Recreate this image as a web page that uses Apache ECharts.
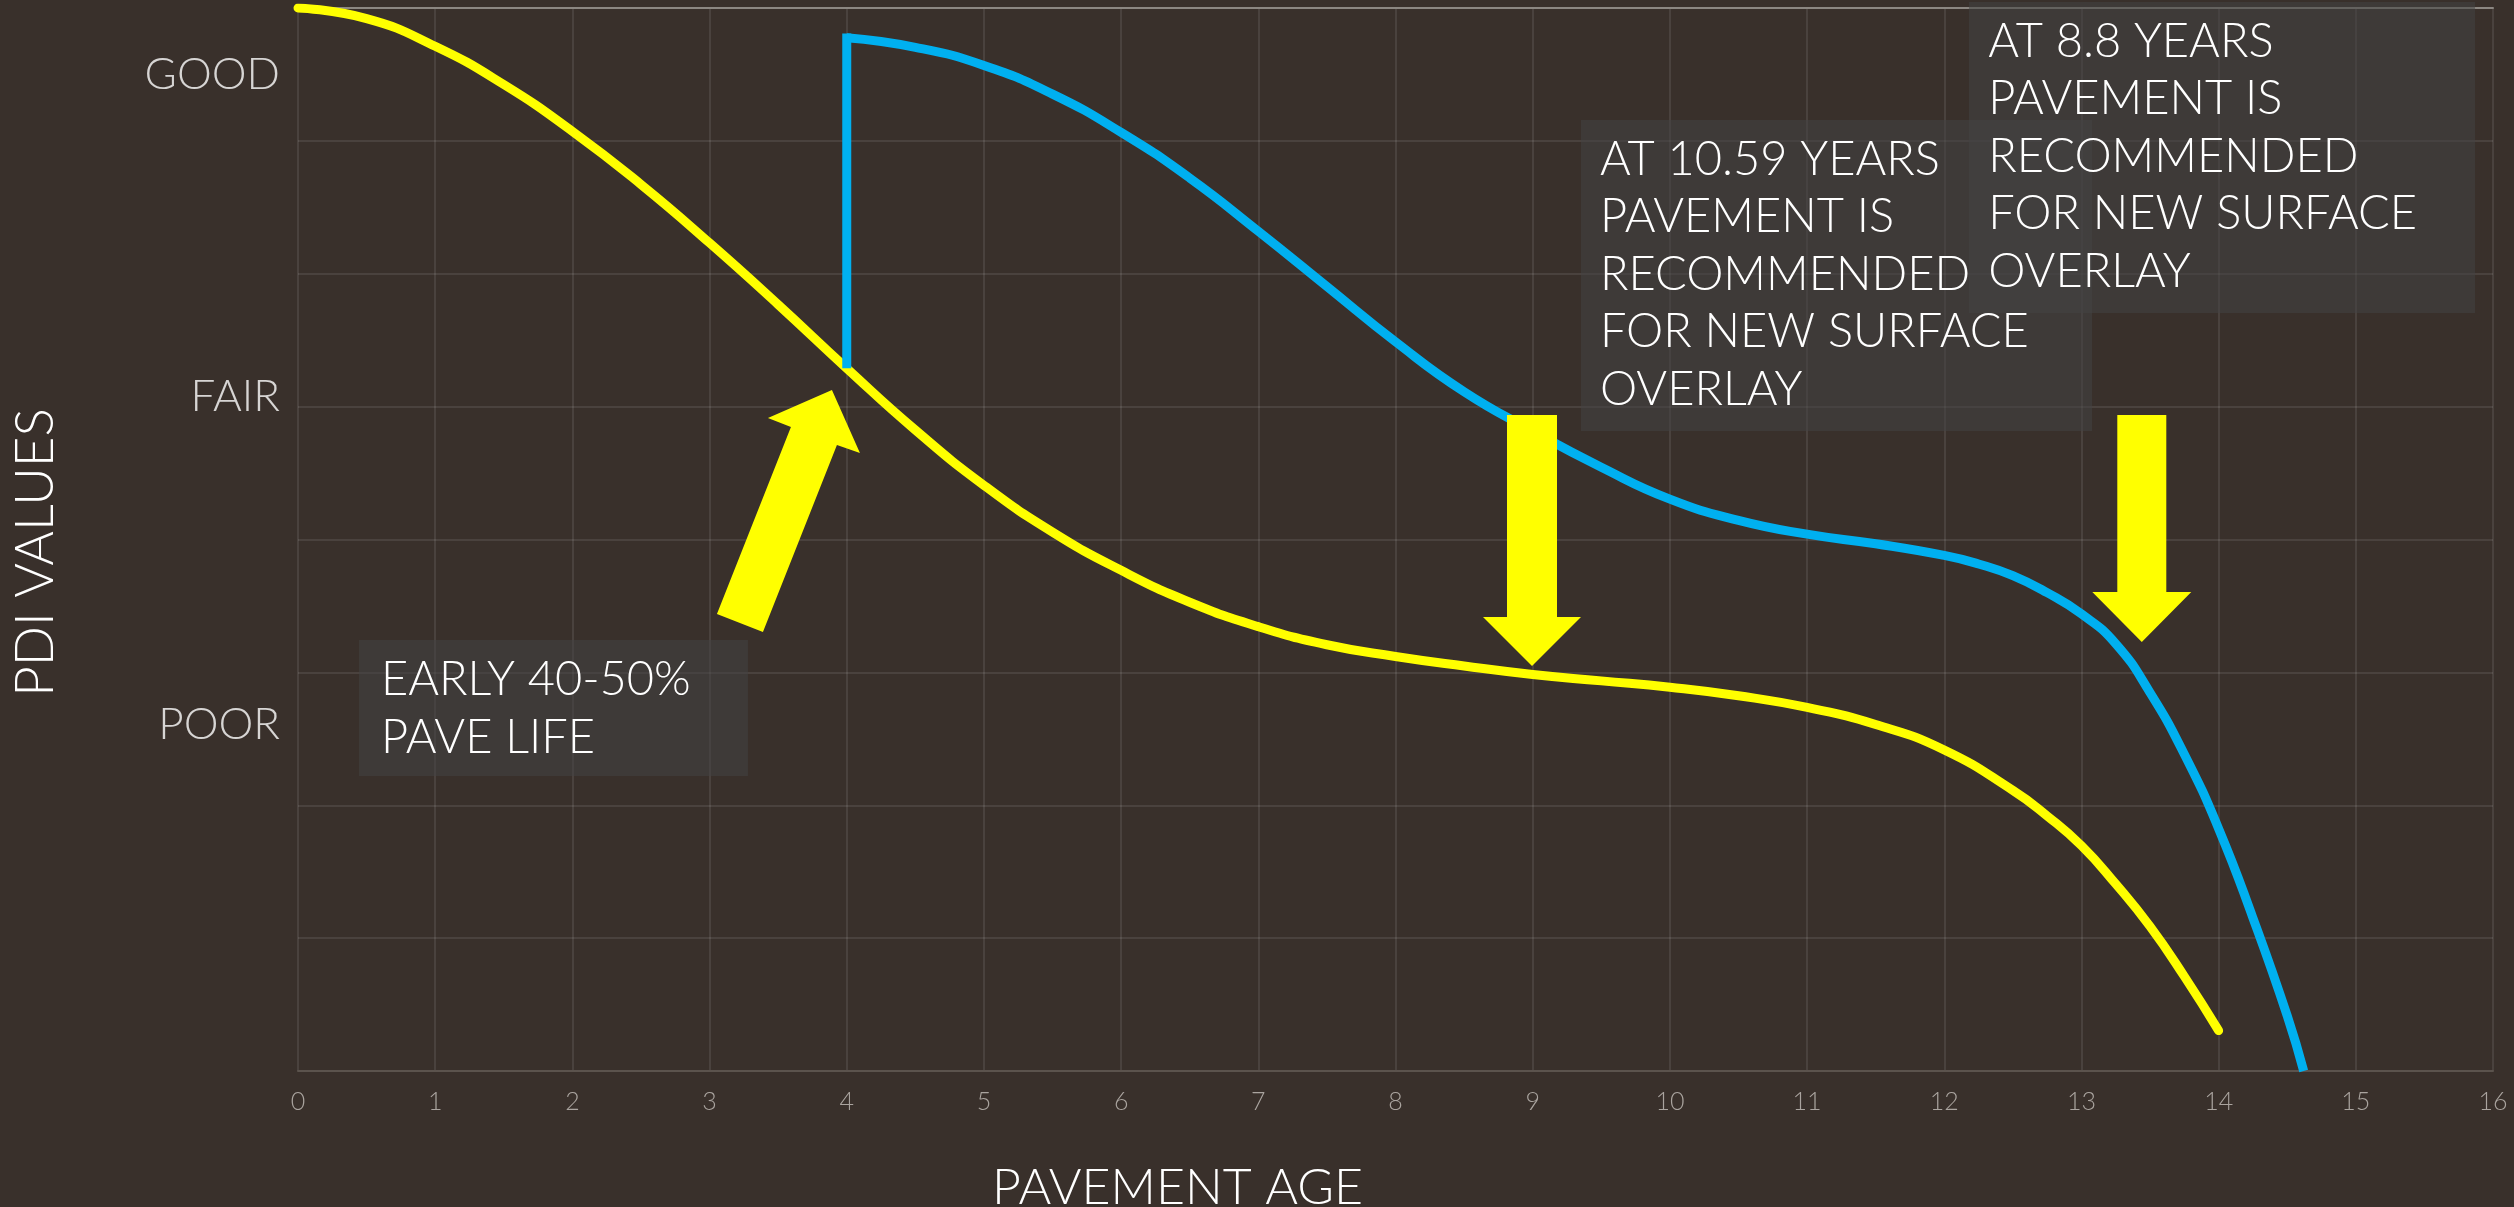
<!DOCTYPE html>
<html>
<head>
<meta charset="utf-8">
<title>Pavement deterioration curve</title>
<script src="https://cdn.jsdelivr.net/npm/echarts@6/dist/echarts.min.js"></script>
<style>
  html, body { margin: 0; padding: 0; background: #39302b; }
  #chart { width: 2514px; height: 1207px; }
</style>
</head>
<body>
<div id="chart"></div>
<script>
// Condition bands named on the PDI scale
const conditionNames = ['GOOD', 'FAIR', 'POOR'];
const conditionLevels = [93.7, 63.4, 32.6];

// Original pavement: PDI by pavement age (years)
const originalAge = [0, 0.5, 1, 1.5, 2, 2.5, 3, 3.5, 4, 4.5, 5, 5.5, 6, 6.5, 7, 7.5, 8, 8.5, 9, 9.5, 10, 10.5, 11, 11.5, 12, 12.5, 12.75, 13, 13.25, 13.5, 13.75, 14];
const originalPdi = [100, 99.0, 96.4, 92.8, 88.4, 83.4, 77.9, 72.1, 66.1, 60.3, 55.1, 50.7, 47.1, 44.1, 41.8, 40.1, 39.0, 38.1, 37.3, 36.7, 36.1, 35.3, 34.2, 32.6, 30.2, 26.4, 24.0, 21.2, 17.6, 13.6, 8.9, 3.8];

// After an early treatment at year 4: PDI by pavement age (years)
const treatmentAge = 4;
const treatedAge = [4, 4.5, 5, 5.5, 6, 6.5, 7, 7.5, 8, 8.5, 9, 9.5, 10, 10.5, 11, 11.5, 12, 12.25, 12.5, 12.75, 13, 13.25, 13.5, 13.75, 14, 14.25, 14.5, 14.62];
const treatedPdi = [97.2, 96.3, 94.6, 91.9, 88.3, 84.0, 79.0, 73.8, 68.6, 63.9, 60.2, 56.8, 53.8, 51.8, 50.5, 49.6, 48.5, 47.7, 46.6, 45.0, 43.0, 40.2, 35.6, 29.8, 22.8, 14.4, 5.2, 0];

const ageTicks = [0, 16, 1];   // min, max, step of the age axis
const pdiTicks = [0, 100, 12.5];

const zip = (xs, ys) => xs.map((x, i) => [x, ys[i]]);
const pdiBeforeTreatment = originalPdi[originalAge.indexOf(treatmentAge)];

const FONT = 'Lato, "DejaVu Sans", sans-serif';
const YELLOW = '#ffff00';
const BLUE = '#00b0f0';
const GRID_LINE = 'rgba(255,255,255,0.09)';

const chart = echarts.init(document.getElementById('chart'));

chart.setOption({
  backgroundColor: '#39302b',
  animation: false,
  textStyle: { fontFamily: FONT },
  grid: { left: 298, right: 21, top: 8, bottom: 136, outerBoundsMode: 'none' },
  xAxis: [{
    type: 'value',
    min: ageTicks[0], max: ageTicks[1], interval: ageTicks[2],
    name: 'PAVEMENT AGE',
    nameLocation: 'middle',
    nameGap: 92,
    nameTextStyle: { color: '#ffffff', fontSize: 50, fontWeight: 300, fontFamily: FONT, padding: [0, 436, 0, 0] },
    axisLine: { show: true, lineStyle: { color: '#5b534d', width: 2 } },
    axisTick: { show: false },
    axisLabel: { color: '#aaa49f', fontSize: 25, fontWeight: 300, fontFamily: FONT, margin: 18 },
    splitLine: { show: true, lineStyle: { color: GRID_LINE, width: 2 } }
  }, {
    type: 'value',
    position: 'top',
    min: ageTicks[0], max: ageTicks[1],
    axisLine: { show: true, lineStyle: { color: '#8c8782', width: 2 } },
    axisTick: { show: false },
    axisLabel: { show: false },
    splitLine: { show: false }
  }],
  yAxis: {
    type: 'value',
    min: pdiTicks[0], max: pdiTicks[1], interval: pdiTicks[2],
    name: 'PDI VALUES',
    nameLocation: 'middle',
    nameRotate: 90,
    nameGap: 236,
    nameTextStyle: { color: '#ffffff', fontSize: 53, fontWeight: 300, fontFamily: FONT, padding: [0, 26, 0, 0] },
    axisLine: { show: false },
    axisTick: { show: false },
    axisLabel: { show: false },
    splitLine: { show: true, lineStyle: { color: GRID_LINE, width: 2 } }
  },
  series: [
    {
      name: 'Condition',
      type: 'scatter',
      clip: false,
      symbolSize: 0,
      silent: true,
      data: conditionNames.map((n, i) => ({ name: n, value: [ageTicks[0], conditionLevels[i]] })),
      label: {
        show: true,
        position: 'left',
        distance: 18,
        formatter: p => p.name,
        color: '#ffffff',
        fontSize: 44,
        fontWeight: 300,
        fontFamily: FONT
      }
    },
    {
      name: 'Original pavement',
      type: 'line',
      smooth: 0.5,
      showSymbol: false,
      data: zip(originalAge, originalPdi),
      lineStyle: { color: YELLOW, width: 9, cap: 'round' },
      z: 3
    },
    {
      name: 'Treatment',
      type: 'line',
      showSymbol: false,
      data: [[treatmentAge, pdiBeforeTreatment], [treatmentAge, treatedPdi[0] + 0.4]],
      lineStyle: { color: BLUE, width: 9, cap: 'butt' },
      z: 4
    },
    {
      name: 'Treated pavement',
      type: 'line',
      smooth: 0.5,
      showSymbol: false,
      data: zip(treatedAge, treatedPdi),
      lineStyle: { color: BLUE, width: 9 },
      z: 4
    }
  ]
});

// ---- annotations: callout boxes and block arrows, anchored in axis units ----
const px = (x, v) => chart.convertToPixel({ seriesIndex: 1 }, [x, v]);
const BOX_FILL = 'rgba(68,68,68,0.55)';
const NOTE_FONT = '300 47px ' + FONT;
const NOTE_LINE = 57.5;

function box(x0, v0, x1, v1, z) {
  const a = px(x0, v0), b = px(x1, v1);
  return { type: 'rect', z: z, silent: true,
    shape: { x: a[0], y: a[1], width: b[0] - a[0], height: b[1] - a[1] },
    style: { fill: BOX_FILL } };
}
function note(x, v, text, z) {
  const p = px(x, v);
  return { type: 'text', z: z, silent: true, x: p[0], y: p[1],
    style: { text: text, fill: '#ffffff', font: NOTE_FONT, lineHeight: NOTE_LINE,
      align: 'left', verticalAlign: 'top' } };
}
function downArrow(tipX, tipV, topV, shaftHalf, headHalf, headLen, z) {
  const t = px(tipX, tipV), top = px(tipX, topV)[1];
  const [x, y] = t;
  return { type: 'polygon', z: z, silent: true,
    shape: { points: [
      [x - shaftHalf, top], [x + shaftHalf, top], [x + shaftHalf, y - headLen],
      [x + headHalf, y - headLen], [x, y], [x - headHalf, y - headLen],
      [x - shaftHalf, y - headLen]] },
    style: { fill: YELLOW } };
}
function slantArrow(tipX, tipV, z) {
  const [x, y] = px(tipX, tipV);
  const offs = [[0, 0], [28, 63], [5, 55], [-69, 242], [-115, 224], [-41, 37], [-64, 28]];
  return { type: 'polygon', z: z, silent: true,
    shape: { points: offs.map(o => [x + o[0], y + o[1]]) },
    style: { fill: YELLOW } };
}

chart.setOption({
  graphic: [
    box(0.445, 40.55, 3.28, 27.75, 10),
    note(0.605, 39.5, 'EARLY 40-50%\nPAVE LIFE', 11),
    box(9.352, 89.46, 13.077, 60.21, 12),
    note(9.49, 88.43, 'AT 10.59 YEARS\nPAVEMENT IS\nRECOMMENDED\nFOR NEW SURFACE\nOVERLAY', 13),
    box(12.18, 100.56, 15.869, 71.31, 14),
    note(12.32, 99.53, 'AT 8.8 YEARS\nPAVEMENT IS\nRECOMMENDED\nFOR NEW SURFACE\nOVERLAY', 15),
    slantArrow(3.892, 64.06, 20),
    downArrow(8.995, 38.1, 61.71, 25, 49, 49, 20),
    downArrow(13.44, 40.36, 61.71, 24.5, 49.5, 50, 20)
  ]
});
</script>
</body>
</html>
